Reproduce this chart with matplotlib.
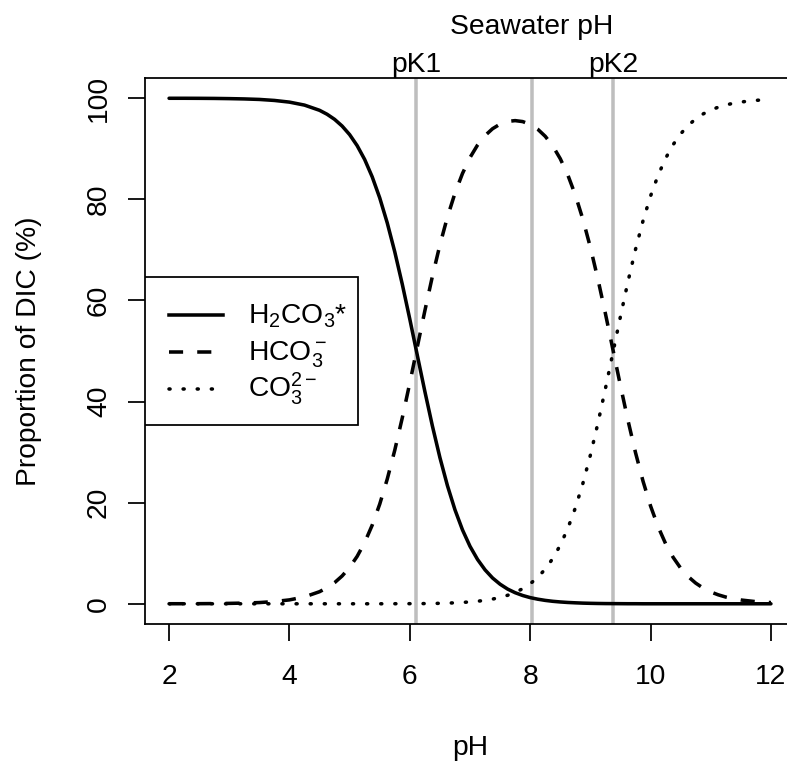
import matplotlib
matplotlib.use("Agg")
import matplotlib.pyplot as plt
import matplotlib.transforms as mtransforms
from matplotlib.patches import Rectangle

plt.rcParams['font.family'] = ['Liberation Sans', 'DejaVu Sans']
plt.rcParams['mathtext.fontset'] = 'custom'
plt.rcParams['mathtext.rm'] = 'Liberation Sans'
plt.rcParams['mathtext.it'] = 'Liberation Sans:italic'
plt.rcParams['mathtext.bf'] = 'Liberation Sans:bold'

# values (percent of DIC)
ph = [2.0, 2.25, 2.5, 2.75, 3.0, 3.25, 3.5, 3.75, 4.0, 4.25,
      4.5, 4.625, 4.75, 4.875, 5.0, 5.125, 5.25, 5.375,
      5.5, 5.625, 5.75, 5.875, 6.0, 6.125, 6.25, 6.375,
      6.5, 6.625, 6.75, 6.875, 7.0, 7.125, 7.25, 7.375,
      7.5, 7.625, 7.75, 7.875, 8.0, 8.125, 8.25, 8.375,
      8.5, 8.625, 8.75, 8.875, 9.0, 9.125, 9.25, 9.375,
      9.5, 9.625, 9.75, 9.875, 10.0, 10.125, 10.25, 10.375,
      10.5, 10.625, 10.75, 10.875, 11.0, 11.125, 11.25, 11.375,
      11.5, 11.75, 12.0]
h2co3 = [99.99, 99.99, 99.98, 99.96, 99.92, 99.86, 99.76, 99.56, 99.23, 98.64,
         97.61, 96.83, 95.82, 94.50, 92.80, 90.62, 87.88, 84.45,
         80.29, 75.34, 69.61, 63.20, 56.29, 49.12, 42.00, 35.18,
         28.92, 23.37, 18.60, 14.62, 11.37, 8.77, 6.71, 5.10,
         3.87, 2.91, 2.19, 1.64, 1.22, 0.91, 0.67, 0.49,
         0.36, 0.26, 0.19, 0.13, 0.09, 0.06, 0.04, 0.03,
         0.02, 0.01, 0.01, 0, 0, 0, 0, 0,
         0, 0, 0, 0, 0, 0, 0, 0,
         0, 0, 0]
hco3 = [0.01, 0.01, 0.02, 0.04, 0.08, 0.14, 0.24, 0.44, 0.77, 1.36,
        2.39, 3.17, 4.18, 5.50, 7.20, 9.38, 12.12, 15.55,
        19.71, 24.66, 30.38, 36.79, 43.69, 50.85, 57.96, 64.76,
        70.99, 76.50, 81.21, 85.11, 88.26, 90.73, 92.61, 93.97,
        94.88, 95.41, 95.57, 95.38, 94.82, 93.87, 92.47, 90.56,
        88.03, 84.83, 80.86, 76.08, 70.51, 64.23, 57.40, 50.27,
        43.13, 36.26, 29.90, 24.24, 19.35, 15.25, 11.89, 9.19,
        7.05, 5.38, 4.09, 3.10, 2.34, 1.77, 1.33, 1.00,
        0.75, 0.42, 0.24]
co3 = [0, 0, 0, 0, 0, 0, 0, 0, 0, 0,
       0, 0, 0, 0, 0, 0, 0, 0,
       0, 0, 0.01, 0.01, 0.02, 0.03, 0.04, 0.06,
       0.09, 0.13, 0.19, 0.27, 0.37, 0.50, 0.69, 0.93,
       1.25, 1.68, 2.24, 2.98, 3.95, 5.22, 6.86, 8.95,
       11.60, 14.91, 18.95, 23.78, 29.40, 35.71, 42.56, 49.70,
       56.85, 63.74, 70.09, 75.76, 80.65, 84.75, 88.11, 90.81,
       92.95, 94.62, 95.91, 96.90, 97.66, 98.23, 98.67, 99.00,
       99.25, 99.58, 99.76]

pk1 = 6.11
pk2 = 9.38
seawater_ph = 8.03

labels = [r'H$_2$CO$_3$*', r'$\mathrm{HCO_3^-}$', r'$\mathrm{CO_3^{2-}}$']
xticks = [2, 4, 6, 8, 10, 12]
yticks = [0, 20, 40, 60, 80, 100]

fs = 20.3
lw = 2.54
thin = 1.27
dotted = (0, (0.3, 3.7))
dashed = (0, (4, 4))
styles = ['-', dashed, dotted]
series = [h2co3, hco3, co3]

fig = plt.figure(figsize=(7.87, 7.63), dpi=100)
ax = fig.add_axes([145 / 787, (763 - 624) / 763, 650 / 787, 546 / 763])

for v in [pk1, seawater_ph, pk2]:
    ax.axvline(v, color='#BEBEBE', lw=lw, zorder=1)

for y, ls in zip(series, styles):
    ax.plot(ph, y, color='black', lw=lw, ls=ls, solid_capstyle='round',
            dash_capstyle='round' if ls is dotted else 'butt', zorder=3)

ax.set_xlim(1.6, 12.4)
ax.set_ylim(-4, 104)
ax.set_xticks(xticks)
ax.set_yticks(yticks)
ax.tick_params(axis='both', length=12.2, width=thin, labelsize=fs, color='black')
ax.tick_params(axis='x', pad=16.5)
ax.tick_params(axis='y', pad=11.5)
for t in ax.get_yticklabels():
    t.set_rotation(90)
    t.set_va('center')
for s in ax.spines.values():
    s.set_linewidth(thin)
ax.spines['right'].set_visible(False)

# top labels
base = ax.get_xaxis_transform()
tr_k = mtransforms.offset_copy(base, fig=fig, x=0, y=4.3, units='points')
tr_s = mtransforms.offset_copy(base, fig=fig, x=0, y=31.5, units='points')
ax.text(pk1, 1, 'pK1', transform=tr_k, ha='center', va='baseline', fontsize=fs)
ax.text(pk2, 1, 'pK2', transform=tr_k, ha='center', va='baseline', fontsize=fs)
ax.text(seawater_ph, 1, 'Seawater pH', transform=tr_s, ha='center', va='baseline', fontsize=fs)

fig.text(470 / 787, 1 - 755 / 763, 'pH', ha='center', va='baseline', fontsize=fs)
fig.text(36 / 787, 1 - 351 / 763, 'Proportion of DIC (%)', rotation=90,
         rotation_mode='anchor', ha='center', va='baseline', fontsize=fs)

# legend box at the left edge, centred vertically (like R's legend("left"))
ax.add_patch(Rectangle((1.6, 35.3), 3.54, 29.3, facecolor='white', edgecolor='black',
                       lw=thin, zorder=4))
row_y = [57.1, 49.8, 42.5]
for yy, ls, lab in zip(row_y, styles, labels):
    ax.plot([2.0, 2.9], [yy, yy], color='black', lw=lw, ls=ls,
            dash_capstyle='round' if ls is dotted else 'butt', zorder=5)
    ax.text(3.31, yy - 1.6, lab, ha='left', va='baseline', fontsize=fs, zorder=5)

fig.savefig('out.png', dpi=100)
